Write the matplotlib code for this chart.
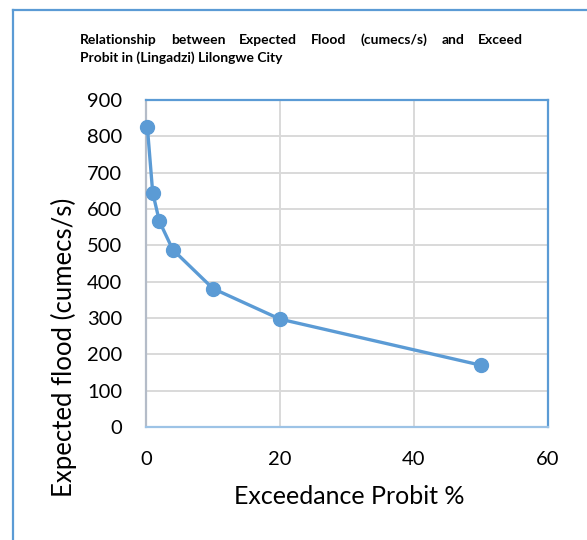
import matplotlib
matplotlib.use("Agg")
import matplotlib.pyplot as plt
from matplotlib.lines import Line2D

plt.rcParams['font.family'] = ['Lato', 'DejaVu Sans']

# Data
exceedance_pct = [0.2, 1, 2, 4, 10, 20, 50]
expected_flood = [826, 645, 566, 488, 381, 297, 170]

x_ticks = [0, 20, 40, 60]
y_ticks = [0, 100, 200, 300, 400, 500, 600, 700, 800, 900]

title_line1 = "Relationship between Expected Flood (cumecs/s) and Exceed"
title_line2 = "Probit in (Lingadzi) Lilongwe City"
x_label = "Exceedance Probit %"
y_label = "Expected flood (cumecs/s)"

BLUE = "#5B9BD5"
GRID = "#D9D9D9"
W, H = 587, 540

fig = plt.figure(figsize=(W / 100, H / 100), dpi=100)
fig.patch.set_facecolor("white")

# Chart-area frame along the left and top edges
fig.add_artist(Line2D([13 / W, 13 / W], [0, 1 - 10 / H], transform=fig.transFigure,
                      color=BLUE, lw=1.6))
fig.add_artist(Line2D([13 / W, 1], [1 - 10 / H, 1 - 10 / H], transform=fig.transFigure,
                      color=BLUE, lw=1.6))

ax = fig.add_axes([146 / W, 1 - 427 / H, (548 - 146) / W, (427 - 100) / H])
ax.plot(exceedance_pct, expected_flood, color=BLUE, lw=2.4, marker='o',
        markersize=10, zorder=3, clip_on=False)

ax.set_xlim(0, 60)
ax.set_ylim(0, 900)
ax.set_xticks(x_ticks)
ax.set_yticks(y_ticks)
ax.tick_params(length=0, labelsize=14.5, colors="black")
ax.tick_params(axis='x', pad=17)
ax.tick_params(axis='y', pad=17)
for lbl in ax.get_yticklabels():
    lbl.set_horizontalalignment('right')
ax.grid(True, color=GRID, lw=1.4)
ax.set_axisbelow(True)

for side in ("top", "right"):
    ax.spines[side].set_color(BLUE)
    ax.spines[side].set_linewidth(1.6)
ax.spines["bottom"].set_color("#9DC3E6")
ax.spines["bottom"].set_linewidth(1.6)
ax.spines["left"].set_color("#B4BCC8")
ax.spines["left"].set_linewidth(1.6)

fig.text(349 / W, 1 - 497 / H, x_label, ha='center', va='center', fontsize=18)
fig.text(64 / W, 1 - 347 / H, y_label, ha='center', va='center', fontsize=18.5,
         rotation=90)

# Justified two-line title
fig.canvas.draw()
renderer = fig.canvas.get_renderer()
left_px, right_px = 80, 523
y1 = 1 - 40 / H
words = title_line1.split(" ")
texts = [fig.text(0, y1, w, ha='left', va='center', fontsize=10, fontweight='bold')
         for w in words]
widths = [t.get_window_extent(renderer).width for t in texts]
gap = (right_px - left_px - sum(widths)) / (len(words) - 1)
x = left_px
for t, w in zip(texts, widths):
    t.set_x(x / W)
    x += w + gap
fig.text(left_px / W, 1 - 58 / H, title_line2, ha='left', va='center',
         fontsize=10, fontweight='bold')

fig.savefig("out.png", dpi=100, facecolor="white")
